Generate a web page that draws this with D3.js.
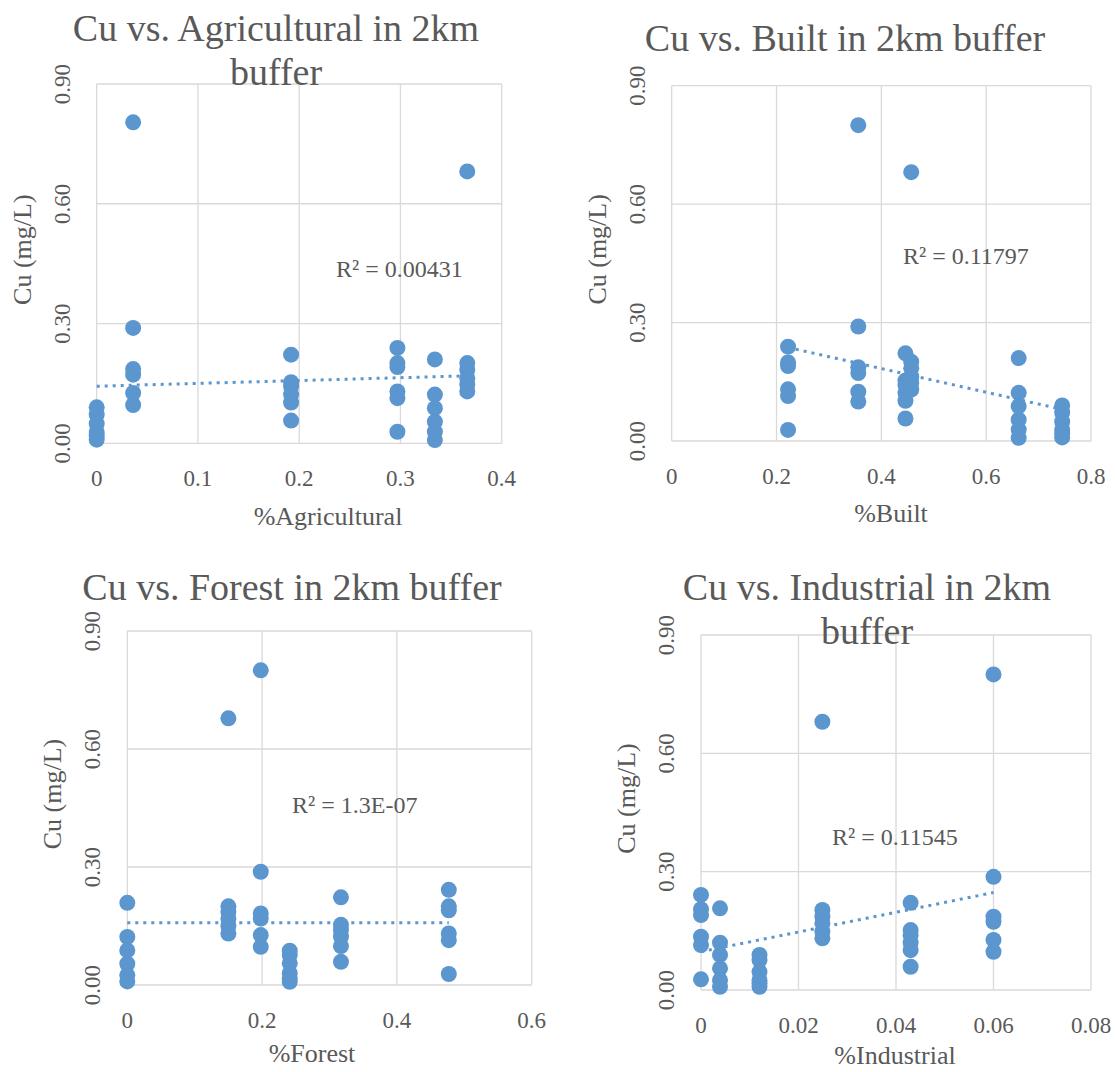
<!DOCTYPE html>
<html lang="en">
<head>
  <title>Cu vs. land use in 2km buffer</title>
  <meta charset="utf-8"/>
  <script src="https://d3js.org/d3.v7.min.js"></script>
  <style>
    body { margin: 0; background: #fff; }
    svg text {
      font-family: "Liberation Serif", "Times New Roman", serif;
      fill: #595959;
    }
  </style>
</head>
<body>
<svg id="chart" width="1115" height="1072"></svg>

<script>
  // y axis is the same for all four charts
  const cuTicks = [0, 0.3, 0.6, 0.9];
  const cuTickLabels = ["0.00", "0.30", "0.60", "0.90"];

  // %Agricultural (one x value per column of points)
  const agriX = [0, 0.036, 0.192, 0.297, 0.334, 0.366];
  const agriCu = [
    [0.09, 0.072, 0.049, 0.028, 0.019, 0.009],
    [0.804, 0.289, 0.186, 0.172, 0.126, 0.096],
    [0.222, 0.153, 0.142, 0.122, 0.102, 0.057],
    [0.239, 0.201, 0.191, 0.13, 0.113, 0.029],
    [0.21, 0.122, 0.088, 0.054, 0.029, 0.008],
    [0.681, 0.201, 0.184, 0.163, 0.147, 0.13]
  ];
  const agriTicks = [0, 0.1, 0.2, 0.3, 0.4];
  const agriTickLabels = ["0", "0.1", "0.2", "0.3", "0.4"];
  const agriTrend = [[0, 0.143], [0.366, 0.169]];

  // %Built
  const builtX = [0.222, 0.356, 0.446, 0.457, 0.662, 0.745];
  const builtCu = [
    [0.239, 0.199, 0.19, 0.131, 0.114, 0.028],
    [0.80, 0.29, 0.187, 0.172, 0.125, 0.10],
    [0.222, 0.153, 0.142, 0.122, 0.102, 0.057],
    [0.681, 0.201, 0.184, 0.163, 0.147, 0.13],
    [0.21, 0.122, 0.088, 0.054, 0.029, 0.008],
    [0.09, 0.072, 0.049, 0.028, 0.019, 0.009]
  ];
  const builtTicks = [0, 0.2, 0.4, 0.6, 0.8];
  const builtTickLabels = ["0", "0.2", "0.4", "0.6", "0.8"];
  const builtTrend = [[0.222, 0.237], [0.745, 0.08]];

  // %Forest
  const forestX = [0, 0.150, 0.198, 0.241, 0.317, 0.477];
  const forestCu = [
    [0.209, 0.122, 0.088, 0.054, 0.025, 0.009],
    [0.678, 0.2, 0.186, 0.169, 0.15, 0.131],
    [0.80, 0.288, 0.182, 0.169, 0.127, 0.097],
    [0.087, 0.076, 0.055, 0.03, 0.017, 0.008],
    [0.223, 0.153, 0.14, 0.123, 0.099, 0.059],
    [0.242, 0.2, 0.19, 0.131, 0.114, 0.028]
  ];
  const forestTicks = [0, 0.2, 0.4, 0.6];
  const forestTickLabels = ["0", "0.2", "0.4", "0.6"];
  const forestTrend = [[0, 0.158], [0.477, 0.158]];

  // %Industrial
  const indX = [0, 0.0039, 0.012, 0.0249, 0.043, 0.06];
  const indCu = [
    [0.241, 0.205, 0.19, 0.135, 0.114, 0.027],
    [0.207, 0.12, 0.089, 0.055, 0.025, 0.008],
    [0.089, 0.076, 0.046, 0.025, 0.017, 0.008],
    [0.68, 0.203, 0.186, 0.169, 0.148, 0.131],
    [0.221, 0.152, 0.139, 0.12, 0.101, 0.059],
    [0.80, 0.287, 0.186, 0.173, 0.127, 0.097]
  ];
  const indTicks = [0, 0.02, 0.04, 0.06, 0.08];
  const indTickLabels = ["0", "0.02", "0.04", "0.06", "0.08"];
  const indTrend = [[0, 0.097], [0.06, 0.247]];

  const blue = "#5b96cf";
  const grid = "#d9d9d9";
  const svg = d3.select("#chart");

  function drawPanel(p) {
    const x = d3.scaleLinear().domain([p.ticks[0], p.ticks[p.ticks.length - 1]]).range([p.left, p.right]);
    const y = d3.scaleLinear().domain([0, 0.9]).range([p.bottom, p.top]);
    const g = svg.append("g");

    // gridlines (also make the plot border)
    g.selectAll(".vgrid").data(p.ticks).enter().append("line")
      .attr("x1", d => x(d)).attr("x2", d => x(d))
      .attr("y1", p.top).attr("y2", p.bottom)
      .attr("stroke", grid).attr("stroke-width", 1.3);
    g.selectAll(".hgrid").data(cuTicks).enter().append("line")
      .attr("x1", p.left).attr("x2", p.right)
      .attr("y1", d => y(d)).attr("y2", d => y(d))
      .attr("stroke", grid).attr("stroke-width", 1.3);

    // x tick labels
    g.selectAll(".xlab").data(p.ticks).enter().append("text")
      .attr("x", d => x(d)).attr("y", p.bottom + 43)
      .attr("text-anchor", "middle").style("font-size", "23px")
      .text((d, i) => p.tickLabels[i]);

    // y tick labels, rotated
    g.selectAll(".ylab").data(cuTicks).enter().append("text")
      .attr("transform", d => `translate(${p.left - 27},${y(d)}) rotate(-90)`)
      .attr("text-anchor", "middle").style("font-size", "23px")
      .text((d, i) => cuTickLabels[i]);

    // axis titles
    g.append("text")
      .attr("x", p.xTitleX).attr("y", p.xTitleY)
      .attr("text-anchor", "middle").style("font-size", "26px")
      .text(p.xTitle);
    g.append("text")
      .attr("transform", `translate(${p.left - 66},${(p.top + p.bottom) / 2 - 14}) rotate(-90)`)
      .attr("text-anchor", "middle").style("font-size", "26px")
      .text("Cu (mg/L)");

    // chart title, one or two lines
    p.title.forEach(function(line, i) {
      g.append("text")
        .attr("x", p.titleX).attr("y", p.titleY + i * 44)
        .attr("text-anchor", "middle").style("font-size", "38px")
        .text(line);
    });

    // points
    const pts = [];
    p.xs.forEach((xv, i) => p.cu[i].forEach(c => pts.push([xv, c])));
    g.selectAll("circle").data(pts).enter().append("circle")
      .attr("cx", d => x(d[0])).attr("cy", d => y(d[1]))
      .attr("r", 8).attr("fill", blue);

    // linear trendline (dotted)
    g.append("path")
      .datum(p.trend)
      .attr("d", d3.line().x(d => x(d[0])).y(d => y(d[1])))
      .attr("fill", "none").attr("stroke", blue)
      .attr("stroke-width", 3).attr("stroke-dasharray", "3,5");

    g.append("text")
      .attr("x", p.r2x).attr("y", p.r2y)
      .style("font-size", "24px")
      .text(p.r2);
  }

  drawPanel({
    xs: agriX, cu: agriCu, ticks: agriTicks, tickLabels: agriTickLabels, trend: agriTrend,
    left: 96.7, right: 501.7, top: 84, bottom: 443.3,
    title: ["Cu vs. Agricultural in 2km", "buffer"], titleX: 276, titleY: 41,
    xTitle: "%Agricultural", xTitleX: 328, xTitleY: 525,
    r2: "R² = 0.00431", r2x: 336, r2y: 277
  });
  drawPanel({
    xs: builtX, cu: builtCu, ticks: builtTicks, tickLabels: builtTickLabels, trend: builtTrend,
    left: 671.7, right: 1091, top: 85.7, bottom: 441,
    title: ["Cu vs. Built in 2km buffer"], titleX: 845, titleY: 51,
    xTitle: "%Built", xTitleX: 891, xTitleY: 522,
    r2: "R² = 0.11797", r2x: 903, r2y: 264
  });
  drawPanel({
    xs: forestX, cu: forestCu, ticks: forestTicks, tickLabels: forestTickLabels, trend: forestTrend,
    left: 127.3, right: 531.7, top: 631, bottom: 985,
    title: ["Cu vs. Forest in 2km buffer"], titleX: 292, titleY: 600,
    xTitle: "%Forest", xTitleX: 312, xTitleY: 1062,
    r2: "R² = 1.3E-07", r2x: 292, r2y: 813
  });
  drawPanel({
    xs: indX, cu: indCu, ticks: indTicks, tickLabels: indTickLabels, trend: indTrend,
    left: 701, right: 1091, top: 635, bottom: 990,
    title: ["Cu vs. Industrial in 2km", "buffer"], titleX: 867, titleY: 600,
    xTitle: "%Industrial", xTitleX: 895, xTitleY: 1064,
    r2: "R² = 0.11545", r2x: 832, r2y: 845
  });
</script>
</body>
</html>
